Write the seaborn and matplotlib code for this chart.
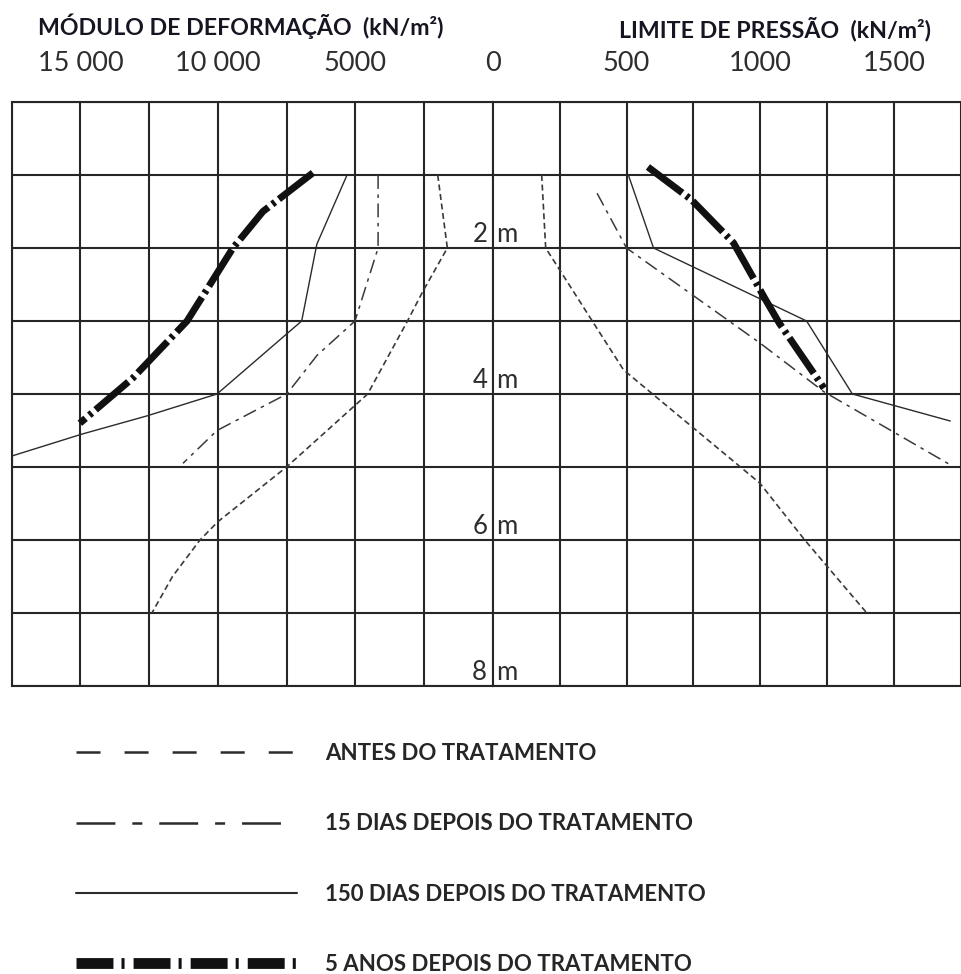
import numpy as np
import matplotlib
matplotlib.use("Agg")
import matplotlib.pyplot as plt
import seaborn as sns
from matplotlib.lines import Line2D

# ---------------- data ----------------
# Left half: módulo de deformação (kN/m²) vs depth (m)
antes_E_depth = [1.0, 2.0, 2.6, 3.0, 4.0, 5.0, 5.75, 6.0, 6.5, 7.0]
antes_E = [2000, 1650, 2550, 3100, 4550, 7500, 10000, 10650, 11650, 12400]

d15_E_depth = [1.0, 2.0, 3.0, 3.47, 4.0, 4.5, 4.95]
d15_E = [4170, 4170, 5010, 6390, 7490, 10030, 11270]

d150_E_depth = [1.0, 1.95, 3.0, 4.0, 4.3, 4.55, 4.85]
d150_E = [5300, 6400, 6950, 10030, 12580, 14950, 17500]

a5_E_depth = [0.97, 1.5, 2.0, 3.0, 3.78, 4.4]
a5_E = [6540, 8360, 9450, 11120, 13090, 15020]

# Right half: limite de pressão (kN/m²) vs depth (m)
antes_P_depth = [1.0, 2.0, 3.0, 3.67, 5.22, 6.0, 7.0]
antes_P = [183, 198, 372, 489, 998, 1166, 1398]

d15_P_depth = [1.25, 2.0, 3.3, 3.97, 4.97]
d15_P = [390, 500, 998, 1238, 1710]

d150_P_depth = [1.0, 2.0, 3.0, 4.0, 4.37]
d150_P = [507, 601, 1173, 1344, 1710]

a5_P_depth = [0.89, 1.34, 1.93, 2.71, 3.03, 3.92]
a5_P = [580, 743, 900, 1020, 1071, 1238]

E_ticks = [15000, 10000, 5000]
E_tick_labels = ["15 000", "10 000", "5000"]
P_ticks = [0, 500, 1000, 1500]
P_tick_labels = ["0", "500", "1000", "1500"]
depth_labels = [2, 4, 6, 8]

series_names = ["ANTES DO TRATAMENTO", "15 DIAS DEPOIS DO TRATAMENTO",
                "150 DIAS DEPOIS DO TRATAMENTO", "5 ANOS DEPOIS DO TRATAMENTO"]

# ---------------- style ----------------
sns.set_style("white")
plt.rcParams["font.family"] = ["Lato", "DejaVu Sans"]
plt.rcParams["lines.scale_dashes"] = False

W, H = 961, 974
fig = plt.figure(figsize=(W / 100, H / 100), dpi=100)


def fx(px):
    return px / W


def fy(py):
    return 1 - py / H


top_px, bot_px = 102, 686
left_px, mid_px, right_px = 11.7, 492.7, 961
col_px = 68.72

axL = fig.add_axes([fx(left_px), fy(bot_px), fx(mid_px - left_px), (bot_px - top_px) / H])
axR = fig.add_axes([fx(mid_px), fy(bot_px), fx(right_px - mid_px), (bot_px - top_px) / H])

grid_c = "#262626"
grid_lw = 1.5

axL.set_xlim(2500 * (mid_px - left_px) / col_px, 0)
axR.set_xlim(0, 250 * (right_px - mid_px) / col_px)

for ax, step, lim_hi in [(axL, 2500, 17500), (axR, 250, 1750)]:
    ax.set_ylim(8, 0)
    ax.set_yticks(np.arange(0, 9, 1))
    ax.set_yticklabels([])
    ax.set_xticks(np.arange(0, lim_hi + 1, step))
    ax.grid(True, color=grid_c, lw=grid_lw)
    ax.set_axisbelow(True)
    ax.xaxis.set_ticks_position("top")
    ax.tick_params(axis="both", length=0)
    ax.tick_params(axis="x", pad=19, labelsize=19.5, labelcolor="#2e2e2e")
    for s in ax.spines.values():
        s.set_color(grid_c)
        s.set_linewidth(grid_lw)
    ax.set_xlabel("")
    ax.set_ylabel("")

# tick labels on top
lab_map_L = dict(zip(E_ticks, E_tick_labels))
axL.set_xticklabels([lab_map_L.get(int(t), "") for t in axL.get_xticks()])
lab_map_R = dict(zip(P_ticks, P_tick_labels))
axR.set_xticklabels([lab_map_R.get(int(t), "") for t in axR.get_xticks()])
axR.spines["left"].set_visible(False)
axR.spines["right"].set_visible(False)

# ---------------- curves ----------------
thin_c = "#2b2b2b"
st_antes = (0, (4.3, 2.6))
st_15 = (0, (10, 4, 2.5, 4))
st_5a = (0, (31, 3.5, 2.5, 3.5))

curves = [
    (axL, antes_E, antes_E_depth, dict(color="#3a3a3a", lw=1.2, linestyle=st_antes)),
    (axL, d15_E, d15_E_depth, dict(color="#3a3a3a", lw=1.1, linestyle=st_15)),
    (axL, d150_E, d150_E_depth, dict(color=thin_c, lw=1.0, linestyle="-")),
    (axL, a5_E, a5_E_depth, dict(color="#111111", lw=5.0, linestyle=st_5a)),
    (axR, antes_P, antes_P_depth, dict(color="#3a3a3a", lw=1.2, linestyle=st_antes)),
    (axR, d15_P, d15_P_depth, dict(color="#3a3a3a", lw=1.1, linestyle=st_15)),
    (axR, d150_P, d150_P_depth, dict(color=thin_c, lw=1.0, linestyle="-")),
    (axR, a5_P, a5_P_depth, dict(color="#111111", lw=5.0, linestyle=st_5a)),
]
for ax, xv, yv, kw in curves:
    sns.lineplot(x=xv, y=yv, ax=ax, orient="y", sort=False, estimator=None, **kw)
    ax.set_xlabel("")
    ax.set_ylabel("")

# depth labels around the centre line
for d in depth_labels:
    axR.annotate(str(d), xy=(0, d), xytext=(-4, 4.5), textcoords="offset points",
                 ha="right", va="baseline", fontsize=18.5, color="#2e2e2e",
                 annotation_clip=False)
    axR.annotate("m", xy=(0, d), xytext=(2.5, 4.5), textcoords="offset points",
                 ha="left", va="baseline", fontsize=18.5, color="#2e2e2e",
                 annotation_clip=False)

# titles
fig.text(fx(38), fy(26), "MÓDULO DE DEFORMAÇÃO  (kN/m²)", ha="left", va="center",
         fontsize=16.7, fontweight="bold", color="#161622")
fig.text(fx(931), fy(29), "LIMITE DE PRESSÃO  (kN/m²)", ha="right", va="center",
         fontsize=16.7, fontweight="bold", color="#161622")

# legend
handles = [
    Line2D([], [], color=thin_c, lw=1.8, linestyle=(0, (17.3, 17.3))),
    Line2D([], [], color=thin_c, lw=1.8, linestyle=(0, (28, 12.2, 7.2, 12.2))),
    Line2D([], [], color=thin_c, lw=1.5, linestyle="-"),
    Line2D([], [], color="#111111", lw=7.8, linestyle=(0, (26.6, 5.8, 2.2, 6.5))),
]
leg_fs = 16
leg_px = leg_fs * 100 / 72
fig.legend(handles, series_names, loc="upper left",
           bbox_to_anchor=(fx(76), fy(743)), bbox_transform=fig.transFigure,
           frameon=False, borderpad=0, borderaxespad=0,
           handlelength=221 / leg_px, handletextpad=28 / leg_px,
           labelspacing=2.22, prop=dict(family=["Lato", "DejaVu Sans"], weight="bold", size=leg_fs))

fig.savefig("out.png", dpi=100)
